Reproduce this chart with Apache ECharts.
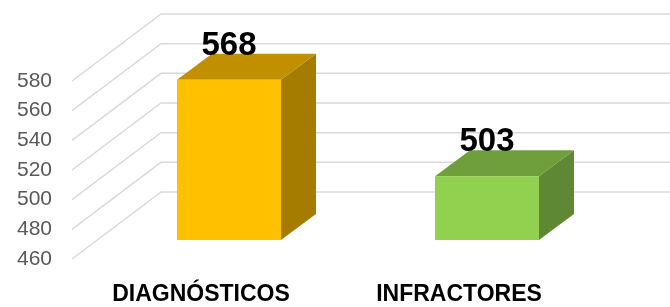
<!DOCTYPE html>
<html>
<head>
<meta charset="utf-8">
<script src="https://cdn.jsdelivr.net/npm/echarts@6/dist/echarts.min.js"></script>
<style>
  html, body { margin: 0; padding: 0; background: #fff; }
  #chart { width: 670px; height: 307px; }
</style>
</head>
<body>
<div id="chart"></div>
<script>
// datos
const categories = ['DIAGNÓSTICOS', 'INFRACTORES'];
const values = [568, 503];
const yMin = 460;
const yMax = 580;
const yStep = 20;
const yTicks = [460, 480, 500, 520, 540, 560, 580];

// colores de cada barra: frente, tapa, lado
const barColors = [
  { front: '#FFC000', top: '#C09000', side: '#A67C00' },
  { front: '#92D050', top: '#6F9E3C', side: '#5E8833' }
];

// perspectiva (pixeles)
const wallDx = 89, wallDy = -67;   // pared del fondo
const barDx = 28, barDy = -19;     // desplazamiento del frente de la barra
const depDx = 35, depDy = -26;     // profundidad de la barra

let myChart = echarts.init(document.getElementById('chart'));

myChart.setOption({
  animation: false,
  grid: { left: 72, right: 82, top: 81, bottom: 48 },
  xAxis: {
    type: 'category',
    data: categories,
    axisLine: { show: false },
    axisTick: { show: false },
    axisLabel: {
      color: '#000',
      fontWeight: 'bold',
      fontSize: 23,
      fontFamily: 'Liberation Sans',
      margin: 24
    }
  },
  yAxis: {
    type: 'value',
    min: yMin,
    max: yMax,
    interval: yStep,
    axisLine: { show: false },
    axisTick: { show: false },
    splitLine: { show: false },
    axisLabel: {
      color: '#595959',
      fontSize: 21,
      fontFamily: 'Liberation Sans',
      margin: 20
    }
  },
  series: [
    {
      // lineas de la cuadricula en perspectiva
      type: 'custom',
      silent: true,
      z: 1,
      data: yTicks.map(v => [0, v]),
      renderItem: function (params, api) {
        const cs = params.coordSys;
        const y = api.coord([0, api.value(1)])[1];
        const x0 = cs.x;
        return {
          type: 'polyline',
          shape: {
            points: [
              [x0, y],
              [x0 + wallDx, y + wallDy],
              [cs.x + cs.width + wallDx, y + wallDy]
            ]
          },
          style: { stroke: '#D9D9D9', lineWidth: 1.5, fill: null }
        };
      }
    },
    {
      // barras 3D
      type: 'custom',
      z: 2,
      data: values.map((v, i) => [i, v]),
      renderItem: function (params, api) {
        const i = api.value(0);
        const top = api.coord([i, api.value(1)]);
        const base = api.coord([i, yMin]);
        const band = api.size([1, 0])[0];
        const w = band * 0.403;
        const c = barColors[i];
        const xl = top[0] - w / 2 + barDx;
        const xr = top[0] + w / 2 + barDx;
        const yt = top[1] + barDy;
        const yb = base[1] + barDy;
        return {
          type: 'group',
          children: [
            {
              type: 'polygon',
              shape: { points: [[xr, yt], [xr + depDx, yt + depDy], [xr + depDx, yb + depDy], [xr, yb]] },
              style: { fill: c.side }
            },
            {
              type: 'polygon',
              shape: { points: [[xl, yt], [xl + depDx, yt + depDy], [xr + depDx, yt + depDy], [xr, yt]] },
              style: { fill: c.top }
            },
            {
              type: 'rect',
              shape: { x: xl, y: yt, width: xr - xl, height: yb - yt },
              style: { fill: c.front }
            },
            {
              type: 'text',
              style: {
                text: String(api.value(1)),
                x: (xl + xr) / 2,
                y: yt + depDy - 8,
                align: 'center',
                verticalAlign: 'middle',
                fill: '#000',
                font: 'bold 33px "Liberation Sans"'
              }
            }
          ]
        };
      }
    }
  ]
});
</script>
</body>
</html>
